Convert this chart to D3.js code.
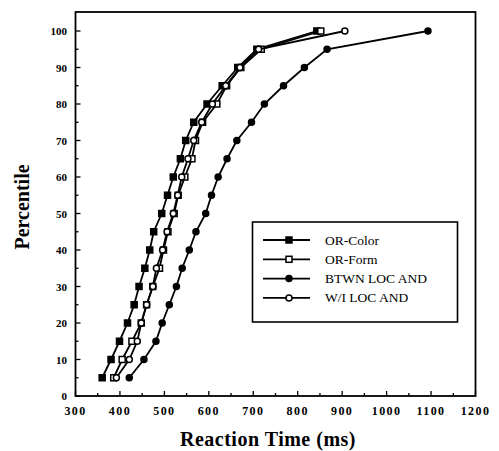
<!DOCTYPE html>
<html>
<head>
<meta charset="utf-8">
<script src="https://cdn.jsdelivr.net/npm/d3@7"></script>
<style>
body { margin: 0; background: #fff; }
svg text { font-family: "Liberation Serif", "DejaVu Serif", serif; fill: #000; }
</style>
</head>
<body>
<svg width="499" height="451"></svg>
<script>
// percentiles and reaction times (ms) for each condition
var percentiles = [5, 10, 15, 20, 25, 30, 35, 40, 45, 50, 55, 60, 65, 70, 75, 80, 85, 90, 95, 100];
var orColor = [360, 380, 399, 417, 432, 443, 456, 467, 476, 494, 507, 520, 536, 548, 566, 596, 630, 665, 708, 843];
var orForm  = [386, 405, 427, 448, 460, 474, 489, 498, 508, 522, 531, 546, 562, 570, 586, 618, 640, 672, 718, 852];
var btwnLoc = [421, 454, 481, 495, 511, 527, 540, 556, 571, 593, 606, 621, 641, 663, 696, 725, 768, 815, 866, 1093];
var wiLoc   = [392, 421, 439, 448, 460, 474, 482, 496, 506, 520, 530, 539, 553, 566, 584, 608, 638, 670, 712, 906];

var seriesNames = ["OR-Color", "OR-Form", "BTWN LOC AND", "W/I LOC AND"];
var seriesValues = [orColor, orForm, btwnLoc, wiLoc];
var markerKind = ["fsquare", "osquare", "fcircle", "ocircle"];

var xTicks = [300, 400, 500, 600, 700, 800, 900, 1000, 1100, 1200];
var yTicks = [0, 10, 20, 30, 40, 50, 60, 70, 80, 90, 100];

var svg = d3.select("svg");

var x = d3.scaleLinear().domain([300, 1200]).range([75.5, 475.5]);
var y = d3.scaleLinear().domain([0, 100]).range([396, 31]);
var topY = 12;

// frame
svg.append("rect")
  .attr("x", x(300)).attr("y", topY)
  .attr("width", x(1200) - x(300)).attr("height", y(0) - topY)
  .attr("fill", "none").attr("stroke", "#000").attr("stroke-width", 1.8);

// x ticks (inward), minor at 50
d3.range(300, 1201, 50).forEach(function(v) {
  var major = v % 100 == 0;
  svg.append("line")
    .attr("x1", x(v)).attr("x2", x(v))
    .attr("y1", y(0)).attr("y2", y(0) - (major ? 5 : 3))
    .attr("stroke", "#000").attr("stroke-width", 1.3);
});
svg.selectAll(".xlab").data(xTicks).enter().append("text")
  .attr("class", "xlab")
  .attr("x", function(d) { return x(d); })
  .attr("y", 415)
  .attr("text-anchor", "middle")
  .attr("font-size", "12px").attr("font-weight", "bold")
  .attr("letter-spacing", "1.4px")
  .text(function(d) { return d; });

// y ticks, minor at 5
d3.range(0, 101, 5).forEach(function(v) {
  var major = v % 10 == 0;
  svg.append("line")
    .attr("x1", x(300)).attr("x2", x(300) + (major ? 5 : 3))
    .attr("y1", y(v)).attr("y2", y(v))
    .attr("stroke", "#000").attr("stroke-width", 1.3);
});
svg.selectAll(".ylab").data(yTicks).enter().append("text")
  .attr("class", "ylab")
  .attr("x", 67)
  .attr("y", function(d) { return y(d) + 4; })
  .attr("text-anchor", "end")
  .attr("font-size", "11px").attr("font-weight", "bold")
  .text(function(d) { return d; });

// axis titles
svg.append("text")
  .attr("x", 268).attr("y", 446)
  .attr("text-anchor", "middle")
  .attr("font-size", "20px").attr("font-weight", "bold")
  .attr("letter-spacing", "0.5px")
  .text("Reaction Time (ms)");
svg.append("text")
  .attr("transform", "translate(29,207) rotate(-90)")
  .attr("text-anchor", "middle")
  .attr("font-size", "20px").attr("font-weight", "bold")
  .text("Percentile");

function drawMarker(g, kind, cx, cy) {
  if (kind == "fsquare" || kind == "osquare") {
    g.append("rect")
      .attr("x", cx - 3).attr("y", cy - 3)
      .attr("width", 6).attr("height", 6)
      .attr("fill", kind == "fsquare" ? "#000" : "#fff")
      .attr("stroke", "#000").attr("stroke-width", 1.5);
  } else {
    g.append("circle")
      .attr("cx", cx).attr("cy", cy).attr("r", 3)
      .attr("fill", kind == "fcircle" ? "#000" : "#fff")
      .attr("stroke", "#000").attr("stroke-width", 1.5);
  }
}

var line = d3.line()
  .x(function(d) { return x(d[0]); })
  .y(function(d) { return y(d[1]); });

seriesValues.forEach(function(vals, i) {
  var pts = vals.map(function(v, j) { return [v, percentiles[j]]; });
  var g = svg.append("g");
  g.append("path")
    .datum(pts)
    .attr("d", line)
    .attr("fill", "none").attr("stroke", "#000").attr("stroke-width", 1.8);
  pts.forEach(function(p) { drawMarker(g, markerKind[i], x(p[0]), y(p[1])); });
});

// legend
var leg = svg.append("g");
leg.append("rect")
  .attr("x", 252.5).attr("y", 222)
  .attr("width", 205).attr("height", 100)
  .attr("fill", "#fff").attr("stroke", "#000").attr("stroke-width", 1.6);
seriesNames.forEach(function(name, i) {
  var ly = 240 + i * 19.3;
  leg.append("line")
    .attr("x1", 263).attr("x2", 310).attr("y1", ly).attr("y2", ly)
    .attr("stroke", "#000").attr("stroke-width", 1.8);
  drawMarker(leg, markerKind[i], 289, ly);
  leg.append("text")
    .attr("x", 325).attr("y", ly + 4.5)
    .attr("font-size", "13.5px")
    .text(name);
});
</script>
</body>
</html>
